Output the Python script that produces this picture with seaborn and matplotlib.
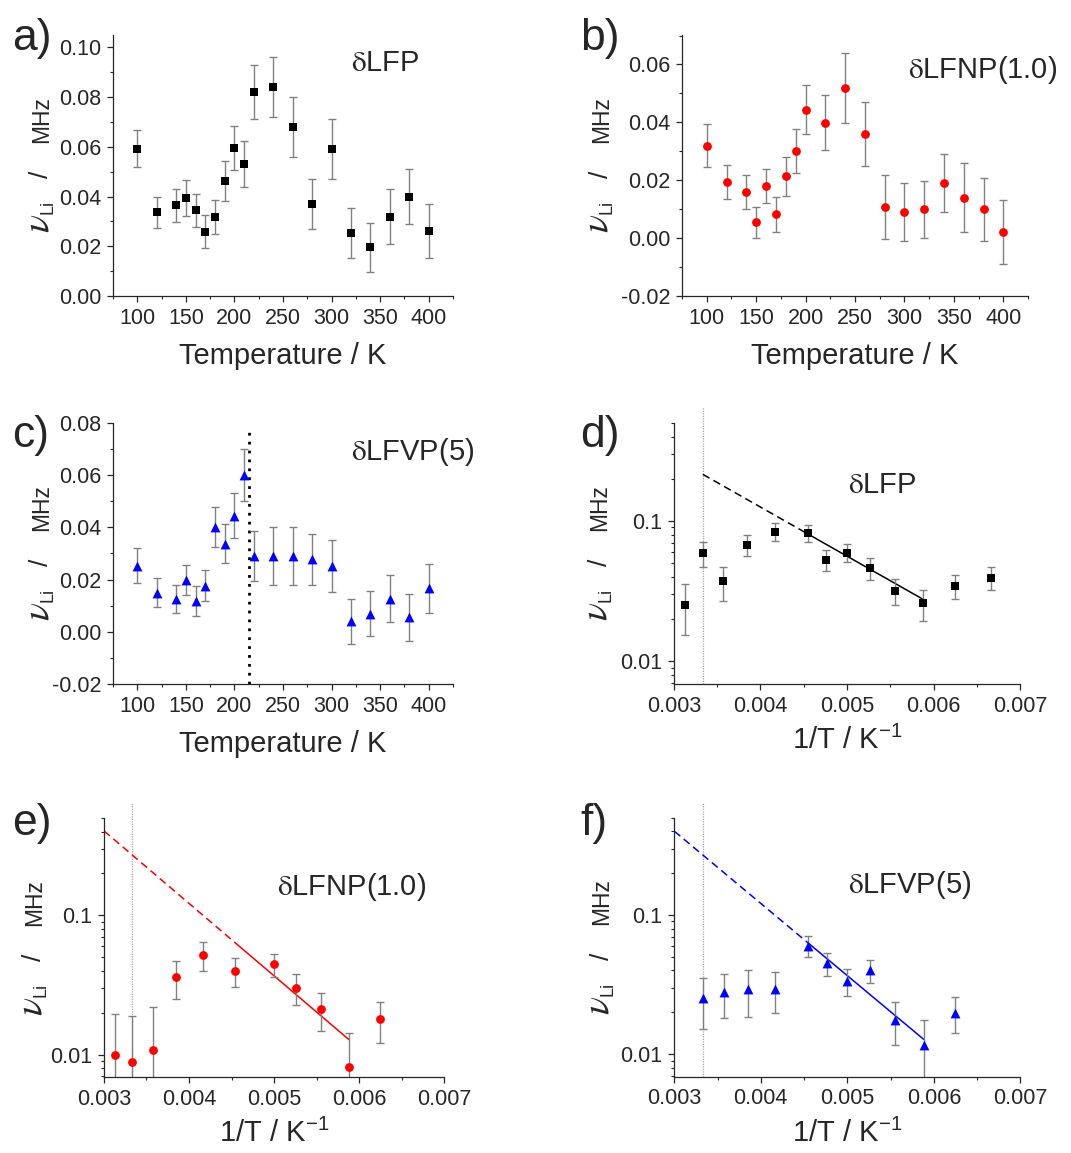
import numpy as np
import matplotlib
matplotlib.use("Agg")
import matplotlib.pyplot as plt
import seaborn as sns
from matplotlib.ticker import MultipleLocator, LogLocator, NullFormatter, FixedLocator, FixedFormatter

# panel a: dLFP, nu_Li vs T
T_a = [100, 120, 140, 150, 160, 170, 180, 190, 200, 210, 220, 240, 260, 280, 300, 320, 340, 360, 380, 400]
nu_a = [0.0593, 0.0337, 0.0365, 0.0395, 0.0344, 0.0259, 0.0319, 0.0462, 0.0596, 0.0530,
        0.0821, 0.0841, 0.0679, 0.0371, 0.0590, 0.0253, 0.0195, 0.0319, 0.0400, 0.0261]
err_a = [0.0074, 0.0063, 0.0066, 0.0072, 0.0066, 0.0066, 0.0069, 0.0081, 0.0088, 0.0093,
         0.0108, 0.0120, 0.0120, 0.0100, 0.0120, 0.0100, 0.0099, 0.0110, 0.0110, 0.0110]

# panel b: dLFNP(1.0)
T_b = [100, 120, 140, 150, 160, 170, 180, 190, 200, 220, 240, 260, 280, 300, 320, 340, 360, 380, 400]
nu_b = [0.0319, 0.0195, 0.0159, 0.0054, 0.0181, 0.0082, 0.0213, 0.0302, 0.0444, 0.0399,
        0.0519, 0.0359, 0.0108, 0.0089, 0.0099, 0.0189, 0.0140, 0.0099, 0.0020]
err_b = [0.0075, 0.0059, 0.0058, 0.0055, 0.0059, 0.0060, 0.0066, 0.0076, 0.0085, 0.0095,
         0.0120, 0.0110, 0.0110, 0.0100, 0.0097, 0.0100, 0.0120, 0.0110, 0.0110]

# panel c: dLFVP(5)
T_c = [100, 120, 140, 150, 160, 170, 180, 190, 200, 210, 220, 240, 260, 280, 300, 320, 340, 360, 380, 400]
nu_c = [0.0253, 0.0150, 0.0126, 0.0199, 0.0117, 0.0176, 0.0401, 0.0337, 0.0445, 0.0602,
        0.0291, 0.0291, 0.0291, 0.0277, 0.0253, 0.0040, 0.0069, 0.0126, 0.0056, 0.0166]
err_c = [0.0068, 0.0054, 0.0053, 0.0058, 0.0058, 0.0060, 0.0076, 0.0074, 0.0087, 0.0100,
         0.0095, 0.0110, 0.0110, 0.0096, 0.0100, 0.0087, 0.0087, 0.0090, 0.0090, 0.0095]
T_transition_c = 215

# panel d: Arrhenius dLFP
T_d = [320, 300, 280, 260, 240, 220, 210, 200, 190, 180, 170, 160, 150]
nu_d = [0.0253, 0.0590, 0.0371, 0.0679, 0.0841, 0.0821, 0.0530, 0.0596, 0.0462, 0.0319, 0.0259, 0.0344, 0.0395]
err_d = [0.0100, 0.0120, 0.0100, 0.0120, 0.0120, 0.0108, 0.0093, 0.0088, 0.0081, 0.0069, 0.0066, 0.0066, 0.0072]
fit_T_d = [300, 220, 170]
fit_nu_d = [0.215, 0.081, 0.0276]

# panel e: Arrhenius dLFNP(1.0)
T_e = [320, 300, 280, 260, 240, 220, 200, 190, 180, 170, 160]
nu_e = [0.0099, 0.0089, 0.0108, 0.0359, 0.0519, 0.0399, 0.0444, 0.0302, 0.0213, 0.0082, 0.0181]
err_e = [0.0097, 0.0100, 0.0110, 0.0110, 0.0120, 0.0095, 0.0085, 0.0076, 0.0066, 0.0060, 0.0059]
fit_T_e = [333.3, 220, 170]
fit_nu_e = [0.404, 0.0634, 0.0128]

# panel f: Arrhenius dLFVP(5)
T_f = [300, 280, 260, 240, 220, 210, 200, 190, 180, 170, 160]
nu_f = [0.0253, 0.0280, 0.0295, 0.0295, 0.0602, 0.0450, 0.0338, 0.0403, 0.0176, 0.0117, 0.0199]
err_f = [0.0100, 0.0098, 0.0110, 0.0097, 0.0100, 0.0087, 0.0074, 0.0076, 0.0060, 0.0058, 0.0058]
fit_T_f = [333.3, 220, 170]
fit_nu_f = [0.400, 0.0631, 0.0128]

T_room = 300

sns.set_style("ticks")
plt.rcParams['font.family'] = ['Liberation Sans', 'DejaVu Sans']
plt.rcParams['mathtext.fontset'] = 'stix'
plt.rcParams['axes.linewidth'] = 0.9
plt.rcParams['xtick.major.width'] = 0.9
plt.rcParams['ytick.major.width'] = 0.9
plt.rcParams['xtick.minor.width'] = 0.8
plt.rcParams['ytick.minor.width'] = 0.8

fig = plt.figure(figsize=(10.71, 11.53), dpi=100)

err_col = '#808080'

pos = {
    'a': [0.1055, 0.7433, 0.3175, 0.2264],
    'b': [0.6368, 0.7433, 0.3231, 0.2264],
    'c': [0.1055, 0.4068, 0.3175, 0.2264],
    'd': [0.6293, 0.4068, 0.3231, 0.2264],
    'e': [0.0971, 0.0659, 0.3175, 0.2246],
    'f': [0.6296, 0.0662, 0.3231, 0.2246],
}

# y label pieces: text, offset along the axis (px from centre), baseline shift (px), size
ylab_parts = [(r'$\nu$', -68, 0, 27), ('Li', -49, 4, 13), ('/', -13, 0, 19), ('MHz', 22, 0, 16.5)]


def draw_ylabel(ax, xb):
    for txt, off, shift, size in ylab_parts:
        ax.annotate(txt, xy=(xb, 0.5), xycoords='axes fraction',
                    xytext=(shift * 0.72, off * 0.72), textcoords='offset points',
                    rotation=90, rotation_mode='anchor', ha='left', va='baseline',
                    fontsize=size, annotation_clip=False)


def draw_points(ax, x, y, e, marker, color, size):
    ax.errorbar(x, y, yerr=e, fmt='none', ecolor=err_col, elinewidth=1.0,
                capsize=2.6, capthick=1.0, zorder=2)
    sns.scatterplot(x=x, y=y, ax=ax, marker=marker, color=color, s=size,
                    linewidth=0, zorder=3, legend=False)


def style_axes(ax):
    sns.despine(ax=ax)
    ax.tick_params(which='major', direction='out', length=4.5, labelsize=15.5, pad=4)
    ax.tick_params(which='minor', direction='out', length=2.5)


def temp_panel(ax, T, nu, err, marker, color, size, ylim, ymajor, label, tpos, ylx):
    draw_points(ax, T, nu, err, marker, color, size)
    ax.set_xlim(75, 425)
    ax.set_ylim(*ylim)
    ax.xaxis.set_major_locator(MultipleLocator(50))
    ax.xaxis.set_minor_locator(MultipleLocator(25))
    ax.yaxis.set_major_locator(MultipleLocator(ymajor))
    ax.yaxis.set_minor_locator(MultipleLocator(ymajor / 2))
    ax.yaxis.set_major_formatter(matplotlib.ticker.FormatStrFormatter('%.2f'))
    style_axes(ax)
    ax.set_xlabel('Temperature / K', fontsize=21)
    ax.set_ylabel('')
    ax.xaxis.set_label_coords(0.5, -0.175)
    draw_ylabel(ax, ylx)
    ax.text(tpos[0], tpos[1], label, transform=ax.transAxes, fontsize=21,
            ha='left', va='center')


def arrh_panel(ax, T, nu, err, marker, color, size, fit_T, fit_nu, label, tpos, ylx):
    x = 1.0 / np.array(T, dtype=float)
    fx = 1.0 / np.array(fit_T, dtype=float)
    ax.set_yscale('log')
    ax.axvline(1.0 / T_room, ymin=0, ymax=1.06, color='#a8a8a8', lw=0.9,
               ls=(0, (1, 1)), clip_on=False, zorder=1)
    ax.plot(fx[:2], fit_nu[:2], color=color, lw=1.1, ls=(0, (5, 3)), zorder=2)
    ax.plot(fx[1:], fit_nu[1:], color=color, lw=1.1, zorder=2)
    draw_points(ax, x, nu, err, marker, color, size)
    ax.set_xlim(0.003, 0.007)
    ax.set_ylim(0.0069, 0.5)
    ax.xaxis.set_major_locator(MultipleLocator(0.001))
    ax.xaxis.set_minor_locator(MultipleLocator(0.0005))
    ax.xaxis.set_major_formatter(matplotlib.ticker.FormatStrFormatter('%.3f'))
    ax.yaxis.set_major_locator(FixedLocator([0.01, 0.1]))
    ax.yaxis.set_major_formatter(FixedFormatter(['0.01', '0.1']))
    ax.yaxis.set_minor_locator(LogLocator(base=10, subs=np.arange(2, 10)))
    ax.yaxis.set_minor_formatter(NullFormatter())
    style_axes(ax)
    ax.set_xlabel(r'1/T / K$^{\mathregular{-1}}$', fontsize=21)
    ax.set_ylabel('')
    ax.xaxis.set_label_coords(0.5, -0.165)
    draw_ylabel(ax, ylx)
    ax.text(tpos[0], tpos[1], label, transform=ax.transAxes, fontsize=21,
            ha='left', va='center')


ax_a = fig.add_axes(pos['a'])
temp_panel(ax_a, T_a, nu_a, err_a, 's', 'black', 30, (0, 0.105), 0.02,
           r'$\mathrm{\delta}$LFP', (0.70, 0.893), -0.191)

ax_b = fig.add_axes(pos['b'])
temp_panel(ax_b, T_b, nu_b, err_b, 'o', '#ff0000', 40, (-0.02, 0.0702), 0.02,
           r'$\mathrm{\delta}$LFNP(1.0)', (0.653, 0.866), -0.214)

ax_c = fig.add_axes(pos['c'])
ax_c.axvline(T_transition_c, ymin=0, ymax=0.974, color='black', lw=2,
             ls=(0, (1, 2.2)), zorder=1)
temp_panel(ax_c, T_c, nu_c, err_c, '^', '#0000ff', 50, (-0.02, 0.08), 0.02,
           r'$\mathrm{\delta}$LFVP(5)', (0.70, 0.89), -0.19)

ax_d = fig.add_axes(pos['d'])
arrh_panel(ax_d, T_d, nu_d, err_d, 's', 'black', 30, fit_T_d, fit_nu_d,
           r'$\mathrm{\delta}$LFP', (0.503, 0.762), -0.195)

ax_e = fig.add_axes(pos['e'])
arrh_panel(ax_e, T_e, nu_e, err_e, 'o', '#ff0000', 40, fit_T_e, fit_nu_e,
           r'$\mathrm{\delta}$LFNP(1.0)', (0.509, 0.735), -0.185)

ax_f = fig.add_axes(pos['f'])
arrh_panel(ax_f, T_f, nu_f, err_f, '^', '#0000ff', 50, fit_T_f, fit_nu_f,
           r'$\mathrm{\delta}$LFVP(5)', (0.503, 0.741), -0.19)

# panel letters
letters = [('a)', 12, 50), ('b)', 580, 50), ('c)', 12, 447),
           ('d)', 580, 447), ('e)', 12, 835), ('f)', 580, 835)]
for txt, px, py in letters:
    fig.text(px / 1071, 1 - py / 1153, txt, fontsize=32, ha='left', va='baseline')

fig.savefig('out.png', dpi=100)
